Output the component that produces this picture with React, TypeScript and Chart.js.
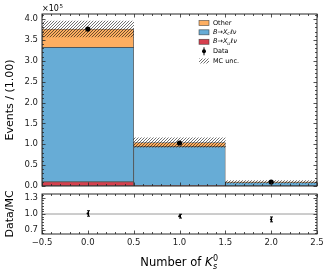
import React, { useEffect, useRef } from "react";
import { Chart, registerables } from "chart.js";
Chart.register(...registerables);

// ---- data (events) ----
const bins = [0, 1, 2];
const binEdges = [-0.5, 0.5, 1.5, 2.5];
const redVals = [10000, 1200, 300];      // B -> X_u l nu
const blueVals = [322000, 93000, 8500];  // B -> X_c l nu
const otherVals = [44000, 10000, 1200];  // Other
const mcUnc = [19000, 11000, 3000];      // MC unc.
const dataVals = [376000, 103000, 9600];
const dataErr = [600, 320, 100];
const ratioVals = [1.01, 0.96, 0.9];
const ratioErr = [0.05, 0.035, 0.045];
const xTicks = [-0.5, 0, 0.5, 1, 1.5, 2, 2.5];
const mainYTicks = [0, 50000, 100000, 150000, 200000, 250000, 300000, 350000, 400000];
const ratioYTicks = [0.7, 1.0, 1.3];

const FONT = "DejaVu Sans";
const COL_OTHER = "#fdae61";
const COL_BLUE = "#67acd6";
const COL_RED = "#d6404e";
const EDGE = "rgba(50,50,50,0.75)";

function makeHatch(): CanvasPattern | string {
  const c = document.createElement("canvas");
  c.width = 3;
  c.height = 3;
  const g = c.getContext("2d");
  if (!g) return "rgba(0,0,0,0.3)";
  g.strokeStyle = "rgba(0,0,0,0.8)";
  g.lineWidth = 0.7;
  g.beginPath();
  g.moveTo(0, 3); g.lineTo(3, 0);
  g.moveTo(-1, 1); g.lineTo(1, -1);
  g.moveTo(2, 4); g.lineTo(4, 2);
  g.stroke();
  return g.createPattern(c, "repeat") || "rgba(0,0,0,0.3)";
}

function zeroPad(s: any) {
  s.paddingTop = 0;
  s.paddingBottom = 0;
  s.paddingLeft = 0;
  s.paddingRight = 0;
}

function drawFrameTicks(chart: any, yStepMinor: number, yMajors: number[]) {
  const { ctx, chartArea: a, scales } = chart;
  const xs = scales.x, ys = scales.y;
  ctx.save();
  ctx.strokeStyle = "#262626";
  ctx.lineWidth = 1;
  ctx.strokeRect(a.left, a.top, a.right - a.left, a.bottom - a.top);
  ctx.lineWidth = 0.8;
  ctx.beginPath();
  const xmin = xs.min, xmax = xs.max;
  for (let i = 0; i <= Math.round((xmax - xmin) / 0.1); i++) {
    const v = xmin + i * 0.1;
    const major = Math.abs(v * 2 - Math.round(v * 2)) < 1e-6;
    const L = major ? 3.5 : 2;
    const px = Math.round(xs.getPixelForValue(v)) + 0.5;
    ctx.moveTo(px, a.bottom); ctx.lineTo(px, a.bottom - L);
    ctx.moveTo(px, a.top); ctx.lineTo(px, a.top + L);
  }
  const ymin = ys.min, ymax = ys.max;
  const start = Math.ceil(ymin / yStepMinor - 1e-6);
  const end = Math.floor(ymax / yStepMinor + 1e-6);
  for (let k = start; k <= end; k++) {
    const v = k * yStepMinor;
    const major = yMajors.some((m) => Math.abs(m - v) < yStepMinor * 0.01);
    const L = major ? 3.5 : 2;
    const py = Math.round(ys.getPixelForValue(v)) + 0.5;
    ctx.moveTo(a.left, py); ctx.lineTo(a.left + L, py);
    ctx.moveTo(a.right, py); ctx.lineTo(a.right - L, py);
  }
  ctx.stroke();
  ctx.restore();
}

function drawSubLabel(ctx: CanvasRenderingContext2D, x: number, y: number, sub: string, size: number) {
  ctx.font = `italic ${size}px ${FONT}`;
  ctx.textBaseline = "middle";
  ctx.textAlign = "left";
  ctx.fillText("B→X", x, y);
  let w = ctx.measureText("B→X").width;
  ctx.font = `italic ${size * 0.7}px ${FONT}`;
  ctx.fillText(sub, x + w, y + size * 0.25);
  w += ctx.measureText(sub).width;
  ctx.font = `italic ${size}px ${FONT}`;
  ctx.fillText("ℓν", x + w + 0.3, y);
}

export default function App() {
  const mainRef = useRef<HTMLCanvasElement>(null);
  const ratioRef = useRef<HTMLCanvasElement>(null);

  useEffect(() => {
    if (!mainRef.current || !ratioRef.current) return;
    const hatch = makeHatch();

    const cum = bins.map((_, i) => {
      const r = redVals[i];
      const b = r + blueVals[i];
      const o = b + otherVals[i];
      return { r, b, o };
    });

    const mainPlugin = {
      id: "mainDeco",
      afterDatasetsDraw(chart: any) {
        const { ctx, scales } = chart;
        ctx.save();
        ctx.strokeStyle = "#000";
        ctx.lineWidth = 1;
        bins.forEach((b, i) => {
          const px = scales.x.getPixelForValue(b);
          ctx.beginPath();
          ctx.moveTo(px, scales.y.getPixelForValue(dataVals[i] - dataErr[i]));
          ctx.lineTo(px, scales.y.getPixelForValue(dataVals[i] + dataErr[i]));
          ctx.stroke();
        });
        ctx.restore();
      },
      afterDraw(chart: any) {
        const { ctx, chartArea: a } = chart;
        drawFrameTicks(chart, 10000, mainYTicks);
        ctx.save();
        ctx.fillStyle = "#000";
        // x10^5
        ctx.font = `8px ${FONT}`;
        ctx.textAlign = "left";
        ctx.textBaseline = "alphabetic";
        ctx.fillText("×10", a.left, a.top - 3);
        const w = ctx.measureText("×10").width;
        ctx.font = `5.5px ${FONT}`;
        ctx.fillText("5", a.left + w + 0.5, a.top - 6.5);
        // y title
        ctx.font = `11px ${FONT}`;
        ctx.textAlign = "center";
        ctx.textBaseline = "middle";
        ctx.translate(10, (a.top + a.bottom) / 2);
        ctx.rotate(-Math.PI / 2);
        ctx.fillText("Events / (1.00)", 0, 0);
        ctx.restore();

        // legend
        ctx.save();
        const px = 199, pw = 10, ph = 5, tx = 213, fs = 6.5;
        const rows = [23, 32.3, 41.8, 51.3, 61];
        const patch = (y: number, fill: any, edge: string) => {
          ctx.fillStyle = fill;
          ctx.fillRect(px, y - ph / 2, pw, ph);
          ctx.strokeStyle = edge;
          ctx.lineWidth = 0.7;
          ctx.strokeRect(px, y - ph / 2, pw, ph);
        };
        patch(rows[0], COL_OTHER, EDGE);
        patch(rows[1], COL_BLUE, EDGE);
        patch(rows[2], COL_RED, EDGE);
        ctx.fillStyle = hatch;
        ctx.fillRect(px, rows[4] - ph / 2, pw, ph);
        // data marker
        ctx.fillStyle = "#000";
        ctx.beginPath();
        ctx.arc(px + pw / 2, rows[3], 2, 0, Math.PI * 2);
        ctx.fill();
        ctx.strokeStyle = "#000";
        ctx.lineWidth = 1;
        ctx.beginPath();
        ctx.moveTo(px + pw / 2, rows[3] - 4);
        ctx.lineTo(px + pw / 2, rows[3] + 4);
        ctx.stroke();
        ctx.fillStyle = "#000";
        ctx.font = `${fs}px ${FONT}`;
        ctx.textAlign = "left";
        ctx.textBaseline = "middle";
        ctx.fillText("Other", tx, rows[0]);
        drawSubLabel(ctx, tx, rows[1], "c", fs);
        drawSubLabel(ctx, tx, rows[2], "u", fs);
        ctx.font = `${fs}px ${FONT}`;
        ctx.fillText("Data", tx, rows[3]);
        ctx.fillText("MC unc.", tx, rows[4]);
        ctx.restore();
      },
    };

    const barDs = (label: string, lo: number[], hi: number[], color: any, order: number, border = true) => ({
      type: "bar" as const,
      label,
      data: bins.map((b, i) => ({ x: b, y: [lo[i], hi[i]] })),
      backgroundColor: color,
      borderColor: border ? EDGE : "rgba(0,0,0,0)",
      borderWidth: border ? 0.8 : 0,
      borderSkipped: false,
      grouped: false,
      barPercentage: 1,
      categoryPercentage: 1,
      order,
    });

    const main = new Chart(mainRef.current, {
      type: "bar",
      data: {
        datasets: [
          {
            type: "scatter" as const,
            label: "Data",
            data: bins.map((b, i) => ({ x: b, y: dataVals[i] })),
            backgroundColor: "#000",
            borderColor: "#000",
            pointRadius: 2.6,
            pointBorderWidth: 0,
            order: 0,
          } as any,
          barDs("MC unc.", cum.map((c, i) => c.o - mcUnc[i]), cum.map((c, i) => c.o + mcUnc[i]), hatch, 1, false),
          barDs("Other", cum.map((c) => c.b), cum.map((c) => c.o), COL_OTHER, 2),
          barDs("B→Xcℓν", cum.map((c) => c.r), cum.map((c) => c.b), COL_BLUE, 3),
          barDs("B→Xuℓν", bins.map(() => 0), cum.map((c) => c.r), COL_RED, 4),
        ],
      },
      options: {
        animation: false,
        responsive: false,
        devicePixelRatio: 1,
        layout: { padding: { left: 0, right: 15, top: 14, bottom: 4 } },
        plugins: { legend: { display: false }, tooltip: { enabled: false } },
        scales: {
          x: {
            type: "linear",
            min: binEdges[0],
            max: binEdges[binEdges.length - 1],
            display: false,
            offset: false,
            afterBuildTicks: (s: any) => { s.ticks = binEdges.map((v) => ({ value: v })); },
          },
          y: {
            type: "linear",
            min: 0,
            max: 412000,
            afterFit: (s: any) => { s.width = 42; zeroPad(s); },
            afterBuildTicks: (s: any) => { s.ticks = mainYTicks.map((v) => ({ value: v })); },
            grid: { display: false, drawTicks: false },
            border: { display: false },
            ticks: {
              autoSkip: false,
              padding: 4,
              color: "#222",
              font: { family: FONT, size: 8.5 },
              callback: (v: any) => (Number(v) / 100000).toFixed(1),
            },
          },
        },
      },
      plugins: [mainPlugin],
    } as any);

    const ratioPlugin = {
      id: "ratioDeco",
      afterDatasetsDraw(chart: any) {
        const { ctx, scales } = chart;
        ctx.save();
        ctx.strokeStyle = "#000";
        ctx.lineWidth = 1;
        bins.forEach((b, i) => {
          const px = Math.round(scales.x.getPixelForValue(b)) + 0.5;
          const y1 = scales.y.getPixelForValue(ratioVals[i] - ratioErr[i]);
          const y2 = scales.y.getPixelForValue(ratioVals[i] + ratioErr[i]);
          ctx.beginPath();
          ctx.moveTo(px, y1); ctx.lineTo(px, y2);
          ctx.moveTo(px - 1.5, y1); ctx.lineTo(px + 1.5, y1);
          ctx.moveTo(px - 1.5, y2); ctx.lineTo(px + 1.5, y2);
          ctx.stroke();
        });
        ctx.restore();
      },
      afterDraw(chart: any) {
        const { ctx, chartArea: a } = chart;
        drawFrameTicks(chart, 0.05, ratioYTicks);
        ctx.save();
        ctx.fillStyle = "#000";
        ctx.font = `11px ${FONT}`;
        ctx.textAlign = "center";
        ctx.textBaseline = "middle";
        ctx.save();
        ctx.translate(10, (a.top + a.bottom) / 2);
        ctx.rotate(-Math.PI / 2);
        ctx.fillText("Data/MC", 0, 0);
        ctx.restore();
        // x title: Number of K_s^0
        const fs = 11.5;
        const t1 = "Number of ";
        ctx.font = `${fs}px ${FONT}`;
        const w1 = ctx.measureText(t1).width;
        ctx.font = `italic ${fs}px ${FONT}`;
        const wK = ctx.measureText("K").width;
        ctx.font = `${fs * 0.7}px ${FONT}`;
        const wS = Math.max(ctx.measureText("s").width, ctx.measureText("0").width);
        const total = w1 + wK + wS + 1;
        const cx = (a.left + a.right) / 2;
        const x0 = cx - total / 2;
        const yb = 76;
        ctx.textAlign = "left";
        ctx.textBaseline = "alphabetic";
        ctx.font = `${fs}px ${FONT}`;
        ctx.fillText(t1, x0, yb);
        ctx.font = `italic ${fs}px ${FONT}`;
        ctx.fillText("K", x0 + w1, yb);
        ctx.font = `italic ${fs * 0.7}px ${FONT}`;
        ctx.fillText("s", x0 + w1 + wK + 0.5, yb + 2.5);
        ctx.font = `${fs * 0.7}px ${FONT}`;
        ctx.fillText("0", x0 + w1 + wK + 0.5, yb - 5);
        ctx.restore();
      },
    };

    const ratio = new Chart(ratioRef.current, {
      type: "scatter",
      data: {
        datasets: [
          {
            type: "scatter" as const,
            label: "Data/MC",
            data: bins.map((b, i) => ({ x: b, y: ratioVals[i] })),
            backgroundColor: "#000",
            borderColor: "#000",
            pointRadius: 1.2,
            pointBorderWidth: 0,
            order: 0,
          },
          {
            type: "line" as const,
            label: "unity",
            data: [{ x: xTicks[0], y: 1 }, { x: xTicks[xTicks.length - 1], y: 1 }],
            borderColor: "#9a9a9a",
            borderWidth: 1,
            pointRadius: 0,
            order: 1,
          },
        ],
      },
      options: {
        animation: false,
        responsive: false,
        devicePixelRatio: 1,
        layout: { padding: { left: 0, right: 15, top: 1, bottom: 0 } },
        plugins: { legend: { display: false }, tooltip: { enabled: false } },
        scales: {
          x: {
            type: "linear",
            min: -0.5,
            max: 2.5,
            afterFit: (s: any) => { s.height = 40; zeroPad(s); },
            afterBuildTicks: (s: any) => { s.ticks = xTicks.map((v) => ({ value: v })); },
            grid: { display: false, drawTicks: false },
            border: { display: false },
            ticks: {
              autoSkip: false,
              maxRotation: 0,
              padding: 4,
              color: "#222",
              font: { family: FONT, size: 8.5 },
              callback: (v: any) => Number(v).toFixed(1).replace("-", "−"),
            },
          },
          y: {
            type: "linear",
            min: 0.63,
            max: 1.37,
            afterFit: (s: any) => { s.width = 42; zeroPad(s); },
            afterBuildTicks: (s: any) => { s.ticks = ratioYTicks.map((v) => ({ value: v })); },
            grid: { display: false, drawTicks: false },
            border: { display: false },
            ticks: {
              autoSkip: false,
              padding: 4,
              color: "#222",
              font: { family: FONT, size: 8.5 },
              callback: (v: any) => Number(v).toFixed(1),
            },
          },
        },
      },
      plugins: [ratioPlugin],
    } as any);

    return () => {
      main.destroy();
      ratio.destroy();
    };
  }, []);

  return (
    <div style={{ position: "fixed", left: 0, top: 0, width: 332, height: 274, background: "#fff" }}>
      <canvas ref={mainRef} width={332} height={190} style={{ position: "absolute", left: 0, top: 0, width: 332, height: 190 }} />
      <canvas ref={ratioRef} width={332} height={84} style={{ position: "absolute", left: 0, top: 190, width: 332, height: 84 }} />
    </div>
  );
}
